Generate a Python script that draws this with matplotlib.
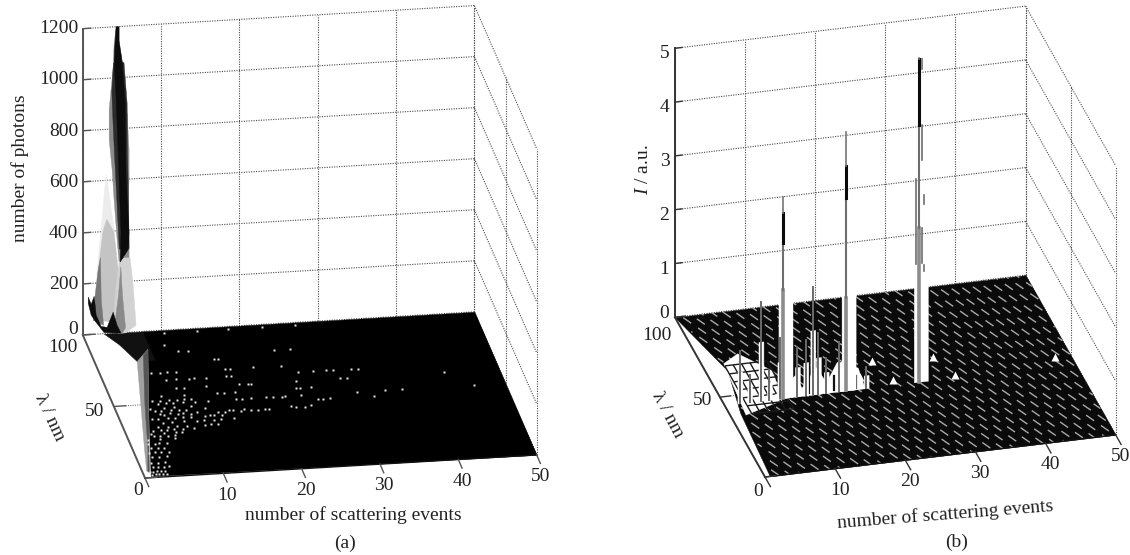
#!/usr/bin/env python3
import numpy as np
import matplotlib
matplotlib.use("Agg")
import matplotlib.pyplot as plt
from mpl_toolkits.mplot3d import proj3d
from mpl_toolkits.mplot3d.art3d import Poly3DCollection

W, H = 1130, 555
plt.rcParams["font.family"] = ["Liberation Serif", "DejaVu Serif"]
plt.rcParams["mathtext.fontset"] = "custom"
plt.rcParams["mathtext.it"] = "Liberation Serif:italic"
plt.rcParams["mathtext.rm"] = "Liberation Serif"

X_TICKS = [0, 10, 20, 30, 40, 50]
LAM_TICKS = [0, 50, 100]
A_Z_TICKS = [0, 200, 400, 600, 800, 1000, 1200]
B_Z_TICKS = [0, 1, 2, 3, 4, 5]

A_OUTER_X = [1.53, 1.53, 1.78, 2.29, 2.67, 2.93, 3.31, 3.94, 4.45, 4.45]
A_OUTER_Z = [76, 135, 253, 410, 547, 625, 546, 407, 248, 52]
A_INNER_X = [1.4, 1.6, 2.0, 2.5, 3.0, 3.9, 4.45, 4.45]
A_INNER_Z = [60, 150, 270, 400, 450, 400, 250, 40]
A_EDGE_X = [1.27, 1.53, 1.9, 2.2, 2.3, 2.6]
A_EDGE_Z = [57, 155, 253, 300, 134, 35]
A_MID_X = [4.2, 3.94, 3.82, 3.56, 3.31, 3.31, 3.69, 3.94, 4.33, 4.58, 5.85, 5.85, 5.73, 5.85, 5.85, 5.6, 5.22, 5.09, 4.58, 4.45]
A_MID_Z = [1202, 1135, 1045, 959, 880, 762, 643, 525, 366, 279, 277, 364, 522, 600, 718, 857, 936, 1043, 1134, 1202]
A_CORE_X = [4.2, 4.07, 3.94, 4.2, 4.58, 4.83, 4.71, 5.73, 5.85, 5.47, 5.34, 4.96, 4.58, 4.58]
A_CORE_Z = [1202, 1147, 1069, 918, 602, 393, 279, 325, 391, 601, 916, 1067, 1146, 1201]
A_DARK_X = [3.85, 3.65, 3.8, 4.0, 4.3, 4.6, 5.85, 5.8, 5.65, 5.6, 5.2]
A_DARK_Z = [1060, 950, 830, 700, 520, 330, 330, 500, 700, 900, 1060]
A_LOBE_X = [3.82, 4.2, 4.58, 5.22, 5.98, 6.36, 6.74, 5.47, 4.45]
A_LOBE_Z = [33, 190, 279, 294, 293, 186, 28, 0, 0]
A_LOBE_IN_X = [4.0, 4.5, 4.8, 5.0, 5.4, 5.0, 4.6]
A_LOBE_IN_Z = [30, 150, 260, 150, 20, 0, 0]
A_FOOT_X = [0.64, 1.02, 1.4, 1.65, 2.29, 3.05, 3.82, 4.33, 4.83, 2.67, 1.65, 1.02, 0.64]
A_FOOT_Z = [149, 120, 151, 76, 31, 26, 84, 31, 0, 6, 48, 77, 125]

# panel (a): floor outlines (x, lambda)
A_FLOOR_X = [7.6, 50, 50, 0.8, 4.6, 7.3]
A_FLOOR_LAM = [100, 100, 0, 1, 53, 88]
A_SHOULDER_X = [2.7, 4, 5.3, 7.6, 7.6]
A_SHOULDER_LAM = [100, 92, 80, 80, 100]
A_STRIP_X = [5.3, 3.2, 1.4, 0.55, 0.8, 4.6, 7.3]
A_STRIP_LAM = [80, 47, 19, 5, 4, 53, 88]
A_STRIP_IN_X = [6.4, 3.9, 1.9, 0.7, 0.8, 4.6, 7.3]
A_STRIP_IN_LAM = [84, 50, 20, 5, 4, 53, 88]

# panel (a): isolated counts on the floor, one lambda row per list
SPECK_LAM = [98, 90, 85, 82, 78, 71, 66, 60, 55, 52, 50, 47, 45, 43, 42, 40, 37, 34, 32, 30, 28, 26, 23, 20, 17, 14, 10, 7, 4, 2]
SPECK_X = [
    [10.2, 14.4, 18.4, 22.7, 27],
    [9.6],
    [11, 12.3],
    [23, 25],
    [15, 15.5],
    [6.4, 7.5, 8.5, 9.6, 15.8, 16.5, 19.4, 23],
    [7.9, 9.2, 10.9, 11.5, 13, 15.6, 16.2, 24.8, 26.7, 28.4, 29.3, 31.6, 32.5],
    [8.7, 9.8, 12.6, 16.8, 17.9, 18.3, 24.1, 29.7, 30.5, 42.9],
    [6.4, 9.4, 13.5, 14.5, 15.8, 23.7, 24.1, 25.6],
    [5, 6, 7.2, 8.2, 9.1, 10],
    [5.6, 6.6, 7.5, 8.8, 10.3, 12, 15.6, 16.4, 17.5, 19.4, 20.3, 21.4, 21.8, 23.9, 31, 34.6, 36.8, 46],
    [4.4, 6.2, 7.4, 9.6, 25.8, 26.4, 27.3, 33],
    [4.8, 5.6, 6.9, 7.9, 8.8, 11.2],
    [5.3, 6.6, 8.3, 10, 14.1, 14.7, 16, 22, 24.6],
    [5.8, 7.5, 9.2, 12.6, 13.5, 15.6, 16.9, 17.7, 18.6, 19.2, 22.6, 23.7],
    [4.1, 4.9, 6.1, 7, 8, 9, 10.9, 11.5, 12, 13],
    [5.3, 6.4, 7.9, 9.6, 10.5, 11.8, 12.6, 14.3],
    [4.3, 5.6, 6.8, 8.1, 10.3, 11.1, 12],
    [3.6, 4.6, 5.3, 6.2, 7.4, 8.8],
    [3.1, 4.8, 6.3, 7.1],
    [3.4, 4.2, 5.1, 6],
    [2.5, 4, 5.9],
    [2.2, 3.1, 3.6, 4.6],
    [2.3, 3.2, 4],
    [1.9, 2.6, 3.4, 4.4],
    [2, 2.9, 3.9],
    [1.5, 2.4, 3.4],
    [1.6, 2.2, 3, 3.6],
    [1, 1.4, 1.8, 2.3, 2.9],
    [1, 1.5, 2, 2.5, 3],
]

# panel (b): floor outline and spikes
B_EDGE_X = [0.7, 1.5, 3, 0]
B_EDGE_LAM = [0, 39, 65, 100]
B_SPIKE_LAM = 45
B_THIN_X = [2.2, 3.6, 5.2, 6.4, 7.9, 10.4, 11.6, 12.6, 13.4, 14.5, 16.4, 20.2]
B_THIN_Z = [0.98, 0.5, 1.83, 0.55, 1.13, 0.91, 1.02, 1.99, 1.13, 0.65, 0.91, 0.4]
B_BIG_X = [8.4, 17.4, 27.7]
B_BIG_BODY_Z = [2.0, 1.71, 2.85]
B_BIG_DARK_LOW = [2.88, 3.57, 4.77]
B_BIG_DARK_TOP = [3.44, 4.18, 6.0]
B_BIG_TOP = [3.74, 4.81, 6.01]
B_SIDE_X = [27.3, 28.1, 28.2, 28.2, 28.5, 28.5]
B_SIDE_Z0 = [2.2, 2.2, 4.12, 5.8, 3.3, 2.05]
B_SIDE_Z1 = [3.78, 2.85, 4.77, 6.0, 3.45, 2.15]
B_HUMP_X = [6, 8, 10, 11, 13, 14.5, 16, 19, 20]
B_HUMP_Z = [0, 0.15, 0.4, 0.15, 0.5, 0.2, 0.55, 0.4, 0]
B_CUT_X = [9.4, 12, 15.6, 18.8]
B_CUT_Z = [0.35, 0.45, 0.3, 0.25]
B_BUMP_X = [33.1, 47.8, 23, 31.5, 20.2, 24.4]
B_BUMP_LAM = [46.4, 49.9, 60.4, 58.4, 51.8, 47.8]
B_MESH_X = [3, 4.2, 5.4, 6.6, 7.8, 9]
B_MESH_LAM = [38, 43, 48, 53, 58, 63, 68]
B_PATCH_X = [3, 5.6, 9, 8, 2.1]
B_PATCH_LAM = [69.7, 74.5, 62, 44, 38]


def make_axes(fig, azim, elev, aspect, zmax, origin, corner):
    ax = fig.add_axes([0.1, 0.1, 0.4, 0.8], projection="3d", computed_zorder=False)
    ax.set_proj_type("ortho")
    ax.view_init(elev=elev, azim=azim)
    ax.set_xlim(0, 50, view_margin=0)
    ax.set_ylim(0, 100, view_margin=0)
    ax.set_zlim(0, zmax, view_margin=0)
    ax.set_box_aspect(aspect)
    ax.set_axis_off()
    ax.patch.set_alpha(0)
    # move the axes until the floor lands on the wanted pixels
    for _ in range(3):
        fig.canvas.draw()
        M = ax.get_proj()
        p = []
        for q in [(0, 0, 0), (50, 100, 0)]:
            x2, y2, _z = proj3d.proj_transform(q[0], q[1], q[2], M)
            p.append(ax.transData.transform((x2, y2)))
        want = np.array([corner[0] - origin[0], origin[1] - corner[1]], dtype=float)
        scale = np.linalg.norm(want) / np.linalg.norm(p[1] - p[0])
        box = ax.get_position()
        side = box.width * W * scale
        cx = (box.x0 + box.width / 2) * W
        cy = (box.y0 + box.height / 2) * H
        new_cx = origin[0] + (cx - p[0][0]) * scale
        new_cy = (H - origin[1]) + (cy - p[0][1]) * scale
        ax.set_position([(new_cx - side / 2) / W, (new_cy - side / 2) / H, side / W, side / H])
    fig.canvas.draw()
    return ax


def wall(ax, xs, zs, lam, color, zorder):
    verts = [list(zip(xs, [lam] * len(xs), zs))]
    ax.add_collection3d(Poly3DCollection(verts, facecolor=color, edgecolor=color, linewidth=0.3, zorder=zorder), autolim=False)


def floor(ax, xs, lams, color, zorder):
    verts = [list(zip(xs, lams, [0] * len(xs)))]
    ax.add_collection3d(Poly3DCollection(verts, facecolor=color, edgecolor=color, linewidth=0.3, zorder=zorder), autolim=False)


def frame(ax, z_ticks, axis_color, tick_x, lam_tick, x_tick):
    grid = dict(color="#4a4a4a", lw=0.8, ls=(0, (1, 1.2)), zorder=1)
    zmax = z_ticks[-1]
    for z in z_ticks:
        ax.plot([0, 50], [100, 100], [z, z], **grid)
        ax.plot([50, 50], [100, 0], [z, z], **grid)
    for x in X_TICKS:
        ax.plot([x, x], [100, 100], [0, zmax], **grid)
    for lam in LAM_TICKS:
        ax.plot([50, 50], [lam, lam], [0, zmax], **grid)
    ax.plot([lam_tick, 3.5], [50, 50], [0, 0], zorder=3, color="#555555", lw=0.7, ls=(0, (1, 1.4)))
    solid = dict(color=axis_color, lw=1.4, zorder=6)
    ax.plot([0, 0], [100, 100], [0, zmax], **solid)
    ax.plot([0, 0], [0, 100], [0, 0], **solid)
    ax.plot([0, 50], [0, 0], [0, 0], color="#111111", lw=1.0, zorder=6)
    thin = dict(color=axis_color, lw=1.0, zorder=6)
    for z in z_ticks:
        ax.plot([0, tick_x], [100, 100], [z, z], **thin)
    for lam in LAM_TICKS:
        ax.plot([0, lam_tick], [lam, lam], [0, 0], **thin)
    for x in X_TICKS:
        ax.plot([x, x], [0, x_tick], [0, 0], **thin)


def label3d(ax, x, y, z, s, **kw):
    # plain 2d text placed at the projected data position
    x2, y2, _z = proj3d.proj_transform(x, y, z, ax.get_proj())
    ax.text2D(x2, y2, s, transform=ax.transData, fontsize=14, color="#222222", zorder=30, **kw)


def tick_text(ax, z_ticks, z_dx, z_shift, zero_shift, lam_pos, x_dx, x_dy):
    for z in z_ticks:
        shift = zero_shift if z == 0 else z_shift
        label3d(ax, z_dx, 100, z + shift, str(z), ha="right", va="center")
    for lam, pos in zip(LAM_TICKS, lam_pos):
        label3d(ax, pos[0], pos[1], 0, str(lam), ha="center", va="center")
    for x in X_TICKS[1:]:
        label3d(ax, x + x_dx, x_dy, 0, str(x), ha="center", va="center")


def panel_a(fig):
    ax = make_axes(fig, -99.1, 21.6, (395, 392, 328), 1200, (145, 478), (475, 313))
    frame(ax, A_Z_TICKS, "#555555", 1.0, 1.5, -6)
    floor(ax, A_FLOOR_X, A_FLOOR_LAM, "#000000", 3)
    floor(ax, A_SHOULDER_X, A_SHOULDER_LAM, "#111111", 3)
    floor(ax, A_STRIP_X, A_STRIP_LAM, "#a0a0a0", 4)
    floor(ax, A_STRIP_IN_X, A_STRIP_IN_LAM, "#555555", 4)
    for lam, xs in zip(SPECK_LAM, SPECK_X):
        ax.plot(xs, [lam] * len(xs), [0] * len(xs), "s", ms=1.9, mec="none", color="#e6e6e6", zorder=5)
    wall(ax, A_OUTER_X, A_OUTER_Z, 100, "#ececec", 7)
    wall(ax, A_INNER_X, A_INNER_Z, 100, "#c4c4c4", 7)
    wall(ax, A_EDGE_X, A_EDGE_Z, 100, "#777777", 8)
    wall(ax, A_MID_X, A_MID_Z, 100, "#8c8c8c", 8)
    wall(ax, A_LOBE_X, A_LOBE_Z, 100, "#d2d2d2", 9)
    wall(ax, A_LOBE_IN_X, A_LOBE_IN_Z, 100, "#8a8a8a", 9)
    wall(ax, A_DARK_X, A_DARK_Z, 100, "#2c2c2c", 10)
    wall(ax, A_CORE_X, A_CORE_Z, 100, "#0c0c0c", 10)
    wall(ax, A_FOOT_X, A_FOOT_Z, 100, "#0c0c0c", 11)
    tick_text(ax, A_Z_TICKS, -0.6, 0, 22, [(-1.6, -8.4), (-2.6, 47.5), (-3.2, 92)], -0.7, -15)


def panel_b(fig):
    ax = make_axes(fig, -104.6, 27.5, (362, 357, 303), 5, (765, 477), (1027, 277))
    frame(ax, B_Z_TICKS, "#333333", 1.0, 1.5, -6)
    floor_x = B_EDGE_X + [50, 50]
    floor_lam = B_EDGE_LAM + [100, 0]
    floor(ax, floor_x, floor_lam, "#0a0a0a", 3)
    # the mesh shows as pale slanted dashes on the flat part of the floor
    lam_grid = np.linspace(0, 100, 201)
    edge = np.interp(lam_grid, B_EDGE_LAM[:3] + [100], B_EDGE_X[:3] + [0])
    for i, x0 in enumerate(np.arange(2, 68, 1.45)):
        xs = x0 - 0.17 * lam_grid
        keep = (xs <= 50) & (xs >= edge + 0.3)
        if keep.sum() > 1:
            ax.plot(xs[keep], lam_grid[keep], 0 * xs[keep], color="#a8a8a8", lw=1.0, ls=(i * 3 % 13, (7, 6)), zorder=4)
    floor(ax, B_PATCH_X, B_PATCH_LAM, "#ffffff", 5)
    mesh_x, mesh_lam = np.meshgrid(B_MESH_X, B_MESH_LAM)
    ax.plot_wireframe(mesh_x, mesh_lam, 0 * mesh_x, color="#1a1a1a", lw=1.0, zorder=6)
    ax.plot(B_BUMP_X, B_BUMP_LAM, [0] * len(B_BUMP_X), "^", ms=6, mec="none", color="white", zorder=6)
    wall(ax, B_HUMP_X, B_HUMP_Z, B_SPIKE_LAM, "#ffffff", 7)
    for x, top in zip(B_CUT_X, B_CUT_Z):
        ax.plot([x, x], [B_SPIKE_LAM] * 2, [0.03, top], color="#111111", lw=1.6, zorder=8)
    for x, top in zip(B_THIN_X, B_THIN_Z):
        wall(ax, [x - 0.35, x + 0.35, x + 0.35, x - 0.35], [0, 0, top * 0.6, top * 0.6], B_SPIKE_LAM, "#ffffff", 8)
        ax.plot([x, x], [B_SPIKE_LAM] * 2, [0, top], color="#6a6a6a", lw=1.4, zorder=9)
    for i, x in enumerate(B_BIG_X):
        body = B_BIG_BODY_Z[i]
        wall(ax, [x - 0.7, x + 1.3, x + 1.3, x - 0.7], [0, 0, 2.3, 2.3], B_SPIKE_LAM, "#ffffff", 8)
        ax.plot([x, x], [B_SPIKE_LAM] * 2, [0, body], color="#8c8c8c", lw=2.6, zorder=9)
        ax.plot([x, x], [B_SPIKE_LAM] * 2, [body, B_BIG_DARK_LOW[i]], color="#6e6e6e", lw=1.5, zorder=9)
        ax.plot([x, x], [B_SPIKE_LAM] * 2, [B_BIG_DARK_LOW[i], B_BIG_DARK_TOP[i]], color="#0a0a0a", lw=2.2, zorder=9)
        ax.plot([x, x], [B_SPIKE_LAM] * 2, [B_BIG_DARK_TOP[i], B_BIG_TOP[i]], color="#777777", lw=1.2, zorder=9)
    for x, z0, z1 in zip(B_SIDE_X, B_SIDE_Z0, B_SIDE_Z1):
        ax.plot([x, x], [B_SPIKE_LAM] * 2, [z0, z1], color="#6e6e6e", lw=1.2, zorder=9)
    tick_text(ax, B_Z_TICKS, -0.8, -0.09, 0.09, [(-2, -8), (-2.6, 49.4), (-3.8, 90.6)], -1, -13)


def fig_text(fig, px, py, s, **kw):
    fig.text(px / W, 1 - py / H, s, ha="center", va="center", color="#222222", fontsize=14, **kw)


def main():
    fig = plt.figure(figsize=(W / 100, H / 100), dpi=100)
    panel_a(fig)
    panel_b(fig)
    fig_text(fig, 20, 168, "number of photons", rotation=90)
    fig_text(fig, 50, 418, "λ / nm", rotation=-65)
    fig_text(fig, 353, 515, "number of scattering events")
    fig_text(fig, 345, 543, "(a)")
    fig_text(fig, 643, 170, "$\\mathit{I}$ / a.u.", rotation=90)
    fig_text(fig, 668, 415, "λ / nm", rotation=-62)
    fig_text(fig, 945, 515, "number of scattering events", rotation=4.5)
    fig_text(fig, 957, 542, "(b)")
    fig.savefig("out.png", dpi=100)


if __name__ == "__main__":
    main()
